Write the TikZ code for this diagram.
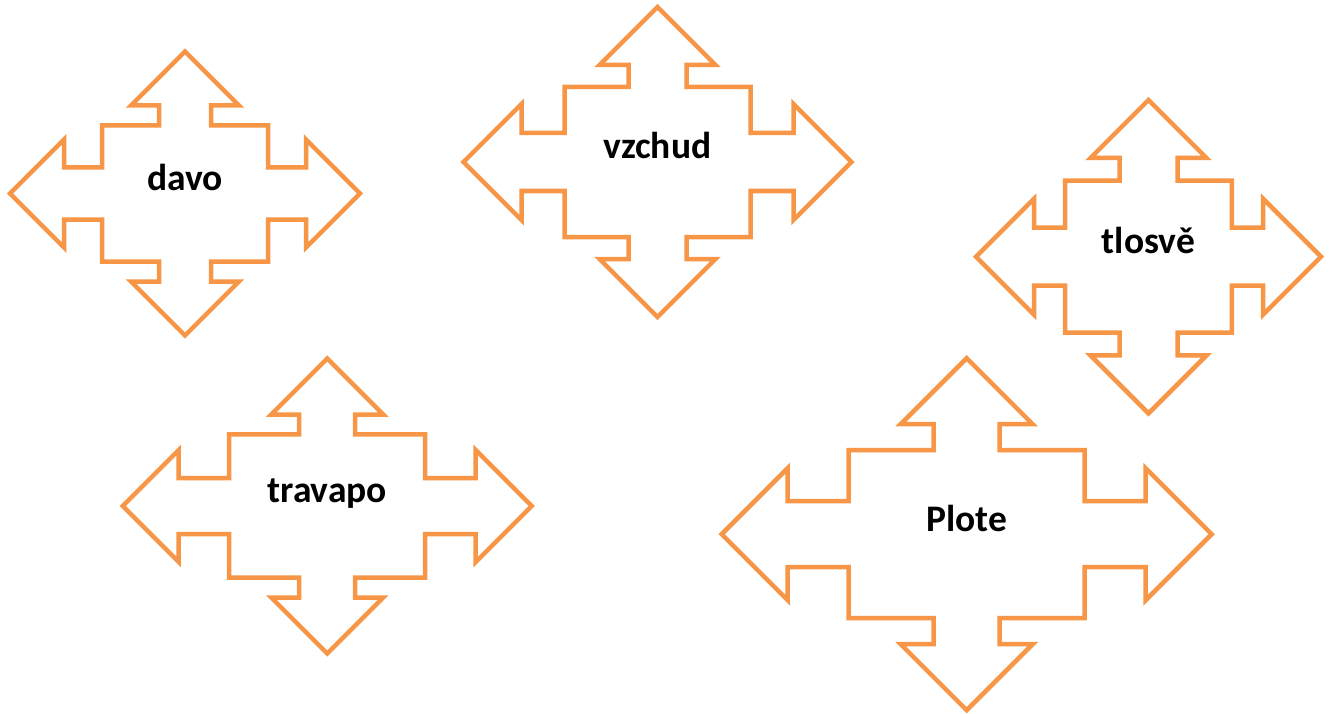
\documentclass[tikz,border=0pt]{standalone}
\usepackage{fontspec}
\setmainfont{Carlito}
\definecolor{qorange}{HTML}{F79646}
\tikzset{
  qa/.style={draw=qorange, line width=4.5pt, line join=miter, fill=white},
  lbl/.style={font=\fontsize{37.5}{44}\selectfont\bfseries, text=black, anchor=base, inner sep=0pt}
}
% #1 cx, #2 cy, #3 W, #4 H, #5 a, #6 s, #7 vy, #8 sx
\newcommand\qshape[8]{%
  \begin{scope}[shift={(#1,#2)}]
  \draw[qa] (0,-#4) -- ({#5},{-#4+#5}) -- ({#6},{-#4+#5}) -- ({#6},-#7) -- ({#8},-#7) -- ({#8},-#6)
    -- ({#3-#5},-#6) -- ({#3-#5},-#5) -- (#3,0) -- ({#3-#5},#5) -- ({#3-#5},#6) -- (#8,#6) -- (#8,#7)
    -- (#6,#7) -- (#6,{#4-#5}) -- (#5,{#4-#5}) -- (0,#4) -- (-#5,{#4-#5}) -- (-#6,{#4-#5}) -- (-#6,#7)
    -- (-#8,#7) -- (-#8,#6) -- ({-#3+#5},#6) -- ({-#3+#5},#5) -- (-#3,0) -- ({-#3+#5},-#5)
    -- ({-#3+#5},-#6) -- (-#8,-#6) -- (-#8,-#7) -- (-#6,-#7) -- (-#6,{-#4+#5}) -- (-#5,{-#4+#5}) -- cycle;
  \end{scope}}
\begin{document}
\begin{tikzpicture}[x=1pt,y=-1pt]
\useasboundingbox (0,0) rectangle (1332,714);
\qshape{185}{193.5}{175}{142}{54}{26}{68}{83}
\qshape{657.5}{162}{194}{155}{58}{29}{75}{93}
\qshape{1148.5}{256.7}{172.5}{156.7}{58}{29}{76}{83.3}
\qshape{327.2}{506}{204.5}{147.5}{56}{28}{71.7}{98}
\qshape{966.7}{534.2}{245}{176}{66}{33}{84}{118}
\node[lbl] (davo) at (185,190.5) {davo};
\node[lbl] (vzchud) at (657.5,158.5) {vzchud};
\node[lbl] (tlosve) at (1148.5,253.2) {tlosvě};
\node[lbl] (travapo) at (327.2,502.5) {travapo};
\node[lbl] (plote) at (966.7,531) {Plote};
\end{tikzpicture}
\end{document}
